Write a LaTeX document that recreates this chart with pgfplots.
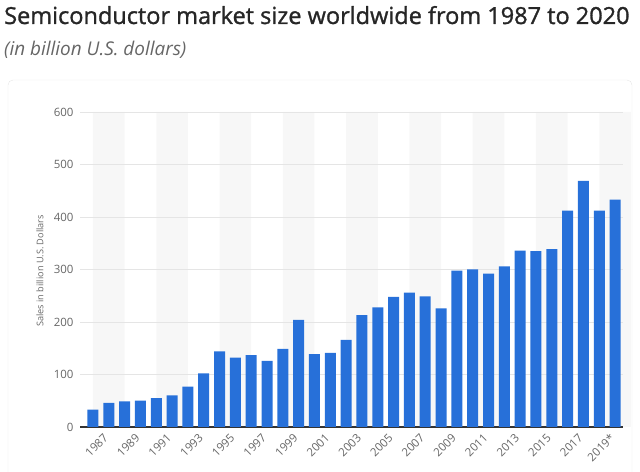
\documentclass[border=0pt]{standalone}
\usepackage{fontspec}
\setmainfont{Open Sans}
\newfontfamily\titlefont{Open Sans}[FakeBold=1.2]
\usepackage{pgfplots}
\pgfplotsset{compat=1.18}
\definecolor{barblue}{RGB}{39,112,217}
\definecolor{ticktext}{RGB}{102,102,102}
\begin{document}
\begin{tikzpicture}
\path (0bp,0bp) rectangle (640bp,472bp);
\begin{scope}
\clip (0bp,0bp) rectangle (640bp,472bp);
\draw[black!10, rounded corners=5bp] (8bp,-6bp) rectangle (632bp,392bp);
\end{scope}
\node[anchor=base west, inner sep=0, font=\titlefont\fontsize{23.6}{28}\selectfont, color=black!85] at (4bp,448bp) {Semiconductor market size worldwide from 1987 to 2020};
\node[anchor=base west, inner sep=0, font=\itshape\fontsize{19}{22}\selectfont, color=black!60] at (4bp,416bp) {(in billion U.S. dollars)};
\node[rotate=90, font=\fontsize{9.2}{11}\selectfont, color=ticktext] at (40bp,201bp) {Sales in billion U.S. Dollars};
\begin{axis}[
  at={(80bp,45bp)}, anchor=south west, scale only axis,
  width=543bp, height=315bp,
  set layers=standard,
  xmin=1986.18, xmax=2020.5, ymin=0, ymax=600,
  axis x line*=bottom, axis y line*=left,
  y axis line style={draw=none},
  x axis line style={draw=black!80, line width=1.5bp},
  major tick length=0pt,
  ytick={0,100,...,600},
  ymajorgrids, grid style={black!10, line width=0.8bp},
  xtick={1987,1989,...,2019},
  xticklabels={1987,1989,1991,1993,1995,1997,1999,2001,2003,2005,2007,2009,2011,2013,2015,2017,2019*},
  tick label style={font=\fontsize{11.5}{13}\selectfont, color=ticktext},
  /pgf/number format/assume math mode=true,
  yticklabel style={xshift=-3bp},
  xticklabel style={rotate=45, anchor=north east, inner sep=0pt, yshift=-11bp, xshift=3bp},
]
\addplot[ybar interval, fill=black!3, draw=none, on layer=axis background] coordinates {
(1987,600) (1989,0) (1991,600) (1993,0) (1995,600) (1997,0) (1999,600) (2001,0)
(2003,600) (2005,0) (2007,600) (2009,0) (2011,600) (2013,0) (2015,600) (2017,0)
(2019,600) (2021,0)
};
\addplot[ybar, bar width=11bp, bar shift=0pt, fill=barblue, draw=none] coordinates {
(1987,33) (1988,46) (1989,49) (1990,50) (1991,55) (1992,60) (1993,77) (1994,102)
(1995,144) (1996,132) (1997,137) (1998,126) (1999,149) (2000,204) (2001,139) (2002,141)
(2003,166) (2004,213) (2005,228) (2006,248) (2007,256) (2008,249) (2009,226) (2010,298)
(2011,300) (2012,292) (2013,306) (2014,336) (2015,335) (2016,339) (2017,412) (2018,469)
(2019,412) (2020,433)
};
\end{axis}
\end{tikzpicture}
\end{document}
